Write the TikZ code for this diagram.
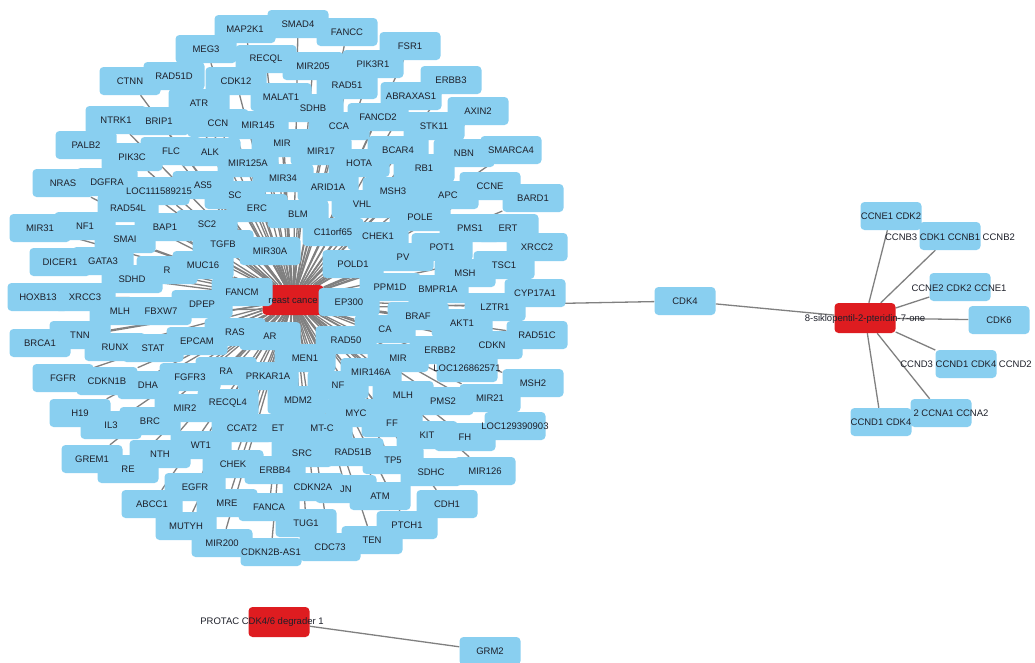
\documentclass[tikz,border=0pt]{standalone}
\usepackage{fontspec}
\setmainfont{Liberation Sans}
\definecolor{nb}{RGB}{137,207,240}
\definecolor{nr}{RGB}{222,28,32}
\definecolor{eg}{RGB}{128,128,128}
\definecolor{tx}{RGB}{30,32,42}
\pgfdeclarelayer{edges}
\pgfdeclarelayer{boxes}
\pgfsetlayers{edges,boxes,main}
\def\genelist{245/29/MAP2K1,298/24/SMAD4,347/32/FANCC,206/49/MEG3,266/59/RECQL,313/66/MIR205,410/46/FSR1,373/64/PIK3R1,130/81/CTNN,174/76/RAD51D,236/81/CDK12,347/85/RAD51,451/80/ERBB3,199/103/ATR,281/97/MALAT1,411/96/ABRAXAS1,313/108/SDHB,378/117/FANCD2,116/120/NTRK1,159/121/BRIP1,218/123/CCN,258/125/MIR145,339/126/CCA,434/126/STK11,478/111/AXIN2,86/145/PALB2,132/157/PIK3C,171/151/FLC,210/152/ALK,282/143/MIR,321/151/MIR17,398/150/BCAR4,464/153/NBN,511/150/SMARCA4,248/163/MIR125A,359/163/HOTA,424/168/RB1,63/183/NRAS,107/182/DGFRA,159/191/LOC111589215,203/185/AS5,235/195/SC,283/178/MIR34,328/187/ARID1A,393/191/MSH3,448/195/APC,490/186/CCNE,533/198/BARD1,128/208/RAD54L,257/208/ERC,298/214/BLM,362/204/VHL,420/217/POLE,40/228/MIR31,85/226/NF1,165/227/BAP1,125/239/SMAI,207/224/SC2,333/232/C11orf65,378/236/CHEK1,470/228/PMS1,508/228/ERT,537/247/XRCC2,60/262/DICER1,103/261/GATA3,223/244/TGFB,270/251/MIR30A,167/270/R,203/265/MUC16,353/264/POLD1,442/247/POT1,403/257/PV,504/265/TSC1,132/279/SDHD,465/273/MSH,38/297/HOXB13,85/297/XRCC3,242/292/FANCM,202/304/DPEP,349/302/EP300,390/287/PPM1D,438/289/BMPR1A,495/307/LZTR1,535/293/CYP17A1,120/311/MLH,161/311/FBXW7,80/335/TNN,40/343/BRCA1,115/347/RUNX,153/348/STAT,197/341/EPCAM,235/332/RAS,270/336/AR,346/340/RAD50,385/329/CA,418/316/BRAF,462/323/AKT1,537/335/RAD51C,63/378/FGFR,107/381/CDKN1B,148/385/DHA,190/377/FGFR3,226/371/RA,268/376/PRKAR1A,305/358/MEN1,371/372/MIR146A,398/358/MIR,440/350/ERBB2,492/345/CDKN,467/368/LOC126862571,338/385/NF,80/413/H19,111/425/IL3,150/421/BRC,185/408/MIR2,228/403/RECQL4,298/400/MDM2,356/413/MYC,242/428/CCAT2,278/428/ET,322/428/MT-C,201/445/WT1,302/453/SRC,353/452/RAD51B,233/464/CHEK,275/470/ERBB4,92/459/GREM1,160/454/NTH,128/469/RE,195/487/EGFR,313/487/CDKN2A,346/489/JN,380/496/ATM,227/503/MRE,269/507/FANCA,152/504/ABCC1,186/526/MUTYH,306/523/TUG1,372/540/TEN,222/543/MIR200,271/552/CDKN2B-AS1,330/547/CDC73,533/383/MSH2,403/395/MLH,443/401/PMS2,490/398/MIR21,392/423/FF,515/426/LOC129390903,427/435/KIT,465/437/FH,393/460/TP5,431/472/SDHC,485/471/MIR126,447/504/CDH1,407/525/PTCH1}
\begin{document}
\begin{tikzpicture}[x=1pt,y=-1pt,
  gn/.style={fill=nb,rounded corners=4pt,minimum width=61pt,minimum height=28pt,inner sep=0pt},
  rn/.style={fill=nr,rounded corners=4pt,minimum width=61pt,minimum height=30pt,inner sep=0pt},
  lb/.style={font=\fontsize{9.5}{11}\selectfont,text=tx,inner sep=0pt},
  ed/.style={draw=eg,line width=1.3pt}]
\useasboundingbox (0,0) rectangle (1035,662);
\begin{pgfonlayer}{edges}
\fill[white] (0,0) rectangle (1035,662);
\end{pgfonlayer}
\begin{pgfonlayer}{boxes}
\node[rn] (bc) at (293,300) {};
\foreach \x/\y/\t [count=\i] in \genelist {\node[gn] (g\i) at (\x,\y) {};}
% right group
\node[gn] (cdk4) at (685,301) {};
\node[rn] (sik) at (865,318) {};
\node[gn] (r1) at (891,216) {};
\node[gn] (r2) at (950,236) {};
\node[gn] (r3) at (960,287) {};
\node[gn] (r4) at (999,320) {};
\node[gn] (r5) at (966,364) {};
\node[gn] (r6) at (941,413) {};
\node[gn] (r7) at (881,422) {};
% bottom pair
\node[rn] (pro) at (279,622) {};
\node[gn] (grm) at (490,651) {};
\end{pgfonlayer}
\begin{pgfonlayer}{edges}
\foreach \x/\y/\t [count=\i] in \genelist {\draw[ed] (bc) -- (g\i);}
\draw[ed] (g86) -- (cdk4);
\draw[ed] (cdk4) -- (sik);
\foreach \r in {r1,r2,r3,r4,r5,r6,r7} {\draw[ed] (sik) -- (\r);}
\draw[ed] (pro) -- (grm);
\end{pgfonlayer}
\foreach \x/\y/\t [count=\i] in \genelist {\node[lb] (l\i) at (g\i) {\t};}
\node[lb] (lbc) at (bc) {reast cance};
\node[lb] (lcdk4) at (cdk4) {CDK4};
\node[lb] (lsik) at (865,319) {8-siklopentil-2-pteridin-7-one};
\node[lb] (lr1) at (r1) {CCNE1 CDK2};
\node[lb] (lr2) at (950,237) {CCNB3 CDK1 CCNB1 CCNB2};
\node[lb] (lr3) at (959,288) {CCNE2 CDK2 CCNE1};
\node[lb] (lr4) at (r4) {CDK6};
\node[lb] (lr5) at (r5) {CCND3 CCND1 CDK4 CCND2};
\node[lb] (lr6) at (951,413) {2 CCNA1 CCNA2};
\node[lb] (lr7) at (r7) {CCND1 CDK4};
\node[lb] (lpro) at (262,622) {PROTAC CDK4/6 degrader 1};
\node[lb] (lgrm) at (grm) {GRM2};
\end{tikzpicture}
\end{document}
